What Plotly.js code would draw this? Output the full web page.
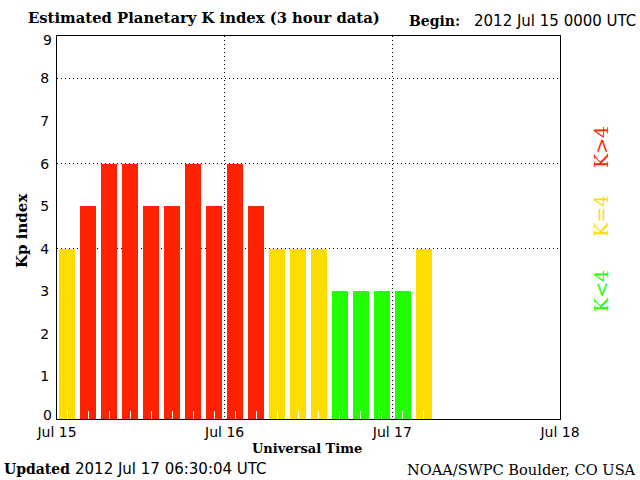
<!DOCTYPE html>
<html>
<head>
<meta charset="utf-8">
<script src="https://cdn.plot.ly/plotly-3.0.1.min.js"></script>
<style>html,body{margin:0;padding:0;background:#fff;}#chart{width:640px;height:480px;}</style>
</head>
<body>
<div id="chart"></div>
<script>
// 3-hour interval centres (UTC)
const kpTimes = [
  "2012-07-15 01:30","2012-07-15 04:30","2012-07-15 07:30","2012-07-15 10:30",
  "2012-07-15 13:30","2012-07-15 16:30","2012-07-15 19:30","2012-07-15 22:30",
  "2012-07-16 01:30","2012-07-16 04:30","2012-07-16 07:30","2012-07-16 10:30",
  "2012-07-16 13:30","2012-07-16 16:30","2012-07-16 19:30","2012-07-16 22:30",
  "2012-07-17 01:30","2012-07-17 04:30"
];
const kpValues = [4,5,6,6,5,5,6,5,6,5,4,4,4,3,3,3,3,4];
const yTickVals = [1,2,3,4,5,6,7,8];
const yTickBottom = [0];
const yTickTop = [9];
const yGridVals = [4,6,8];
const xTickVals = ["2012-07-15","2012-07-16","2012-07-17","2012-07-18"];
const xTickText = ["Jul 15","Jul 16","Jul 17","Jul 18"];

const RED = "#ff2200", YEL = "#ffdd00", GRN = "#22ff00";
const colors = kpValues.map(v => v > 4 ? RED : (v === 4 ? YEL : GRN));

const serif = "DejaVu Serif, Liberation Serif, serif";
const sans = "DejaVu Sans, Liberation Sans, sans-serif";

const L = 57, R = 560, T = 36, B = 419, W = 640, H = 480;
const px = x => (x - L) / (R - L);
const py = y => (B - y) / (B - T);

const trace = {
  type: "bar",
  x: kpTimes,
  y: kpValues,
  width: 8.24e6,
  marker: {color: colors, line: {width: 0}},
  hoverinfo: "x+y"
};
const helper = ax => ({type: "scatter", x: [], y: [], yaxis: ax, showlegend: false, hoverinfo: "skip"});

const yLabelAxis = (vals, shift) => ({
  range: [0, 9], overlaying: "y",
  tickmode: "array", tickvals: vals,
  ticks: "", showgrid: false, zeroline: false, showline: false,
  ticklabelstandoff: 4, ticklabelshift: shift,
  tickfont: {family: sans, size: 14, color: "#000"},
  fixedrange: true
});

const layout = {
  width: W, height: H,
  margin: {l: L, r: W - R, t: T, b: H - B, pad: 0},
  paper_bgcolor: "#fff", plot_bgcolor: "#fff",
  showlegend: false,
  bargap: 0,
  xaxis: {
    type: "date",
    range: ["2012-07-15", "2012-07-18"],
    tickmode: "array", tickvals: xTickVals, ticktext: xTickText,
    ticks: "",
    showgrid: true, gridcolor: "#000", gridwidth: 1, griddash: "1px,3px",
    showline: true, linecolor: "#000", linewidth: 1, mirror: true,
    zeroline: false,
    tickfont: {family: sans, size: 14, color: "#000"},
    minor: {
      ticks: "inside", ticklen: 8, tickwidth: 1, tickcolor: "#fff",
      dtick: 3 * 3600000, tick0: "2012-07-15 01:30", showgrid: false
    },
    fixedrange: true
  },
  yaxis: {
    range: [0, 9],
    tickmode: "array", tickvals: yTickVals,
    ticks: "",
    showgrid: false,
    showline: true, linecolor: "#000", linewidth: 1, mirror: true,
    zeroline: false,
    ticklabelstandoff: 4,
    tickfont: {family: sans, size: 14, color: "#000"},
    fixedrange: true
  },
  yaxis2: {
    range: [0, 9], overlaying: "y",
    tickmode: "array", tickvals: yGridVals,
    showticklabels: false, ticks: "",
    showgrid: true, gridcolor: "#000", gridwidth: 1, griddash: "1px,3px",
    zeroline: false, showline: false,
    layer: "below traces",
    fixedrange: true
  },
  yaxis3: yLabelAxis(yTickBottom, -4),
  yaxis4: yLabelAxis(yTickTop, 4),
  annotations: [
    {text: "Estimated Planetary K index (3 hour data)", xref: "paper", yref: "paper",
     x: px(26), y: py(18), xanchor: "left", yanchor: "middle", showarrow: false,
     font: {family: serif, size: 14.8, color: "#000", weight: "bold"}},
    {text: "Begin:", xref: "paper", yref: "paper",
     x: px(407), y: py(21), xanchor: "left", yanchor: "middle", showarrow: false,
     font: {family: serif, size: 14, color: "#000", weight: "bold"}},
    {text: "2012 Jul 15 0000 UTC", xref: "paper", yref: "paper",
     x: px(638), y: py(21), xanchor: "right", yanchor: "middle", showarrow: false,
     font: {family: sans, size: 15, color: "#000"}},
    {text: "Updated", xref: "paper", yref: "paper",
     x: px(2), y: py(469), xanchor: "left", yanchor: "middle", showarrow: false,
     font: {family: serif, size: 14, color: "#000", weight: "bold"}},
    {text: "2012 Jul 17 06:30:04 UTC", xref: "paper", yref: "paper",
     x: px(73), y: py(469), xanchor: "left", yanchor: "middle", showarrow: false,
     font: {family: sans, size: 15, color: "#000"}},
    {text: "NOAA/SWPC Boulder, CO USA", xref: "paper", yref: "paper",
     x: px(638), y: py(469), xanchor: "right", yanchor: "middle", showarrow: false,
     font: {family: serif, size: 14.6, color: "#000"}},
    {text: "Universal Time", xref: "paper", yref: "paper",
     x: px(307), y: py(448), xanchor: "center", yanchor: "middle", showarrow: false,
     font: {family: serif, size: 13, color: "#000", weight: "bold"}},
    {text: "Kp index", xref: "paper", yref: "paper", textangle: -90,
     x: px(22), y: py(231), xanchor: "center", yanchor: "middle", showarrow: false,
     font: {family: serif, size: 15, color: "#000", weight: "bold"}},
    {text: "K>4", xref: "paper", yref: "paper", textangle: -90,
     x: px(601), y: py(147), xanchor: "center", yanchor: "middle", showarrow: false,
     font: {family: serif, size: 19, color: RED}},
    {text: "K=4", xref: "paper", yref: "paper", textangle: -90,
     x: px(601), y: py(216), xanchor: "center", yanchor: "middle", showarrow: false,
     font: {family: serif, size: 19, color: YEL}},
    {text: "K<4", xref: "paper", yref: "paper", textangle: -90,
     x: px(601), y: py(291), xanchor: "center", yanchor: "middle", showarrow: false,
     font: {family: serif, size: 19, color: GRN}}
  ]
};

Plotly.newPlot("chart", [helper("y2"), helper("y3"), helper("y4"), trace], layout, {displayModeBar: false, staticPlot: true});
</script>
</body>
</html>
